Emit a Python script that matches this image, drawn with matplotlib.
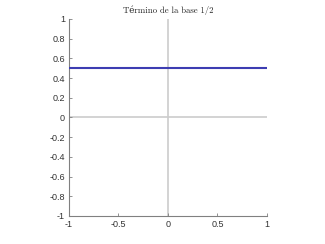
import matplotlib
matplotlib.use('Agg')
import matplotlib.pyplot as plt

# data: constant basis term 1/2 over [-1, 1]
x_vals = [-1.0, 1.0]
y_vals = [0.5, 0.5]
x_ticks = [-1, -0.5, 0, 0.5, 1]
x_tick_labels = ['-1', '-0.5', '0', '0.5', '1']
y_ticks = [-1, -0.8, -0.6, -0.4, -0.2, 0, 0.2, 0.4, 0.6, 0.8, 1]
y_tick_labels = ['-1', '-0.8', '-0.6', '-0.4', '-0.2', '0',
                 '0.2', '0.4', '0.6', '0.8', '1']
title = 'Término de la base 1/2'

plt.rcParams['font.family'] = ['Liberation Sans', 'DejaVu Sans']

fig = plt.figure(figsize=(3.25, 2.44), dpi=100)
ax = fig.add_axes([0.2123, 0.1148, 0.6092, 0.8074])

# zero axes
ax.axvline(0, color='#cccccc', lw=1.2, zorder=1)
ax.axhline(0, color='#cccccc', lw=1.2, zorder=1)

ax.plot(x_vals, y_vals, color='#3d3db2', lw=1.5, zorder=3)

ax.set_xlim(-1, 1)
ax.set_ylim(-1, 1)
ax.set_xticks(x_ticks)
ax.set_xticklabels(x_tick_labels)
ax.set_yticks(y_ticks)
ax.set_yticklabels(y_tick_labels)

for side in ['top', 'right']:
    ax.spines[side].set_visible(False)
for side in ['left', 'bottom']:
    ax.spines[side].set_color('#808080')
    ax.spines[side].set_linewidth(0.8)

ax.tick_params(direction='in', length=2.5, width=0.6, color='#808080',
               labelsize=6.5, labelcolor='#333333', pad=3)

ax.set_title(title, fontsize=6.3, family=['cmr10', 'DejaVu Serif'],
             color='#222222', pad=4)

fig.savefig('out.png', dpi=100)
